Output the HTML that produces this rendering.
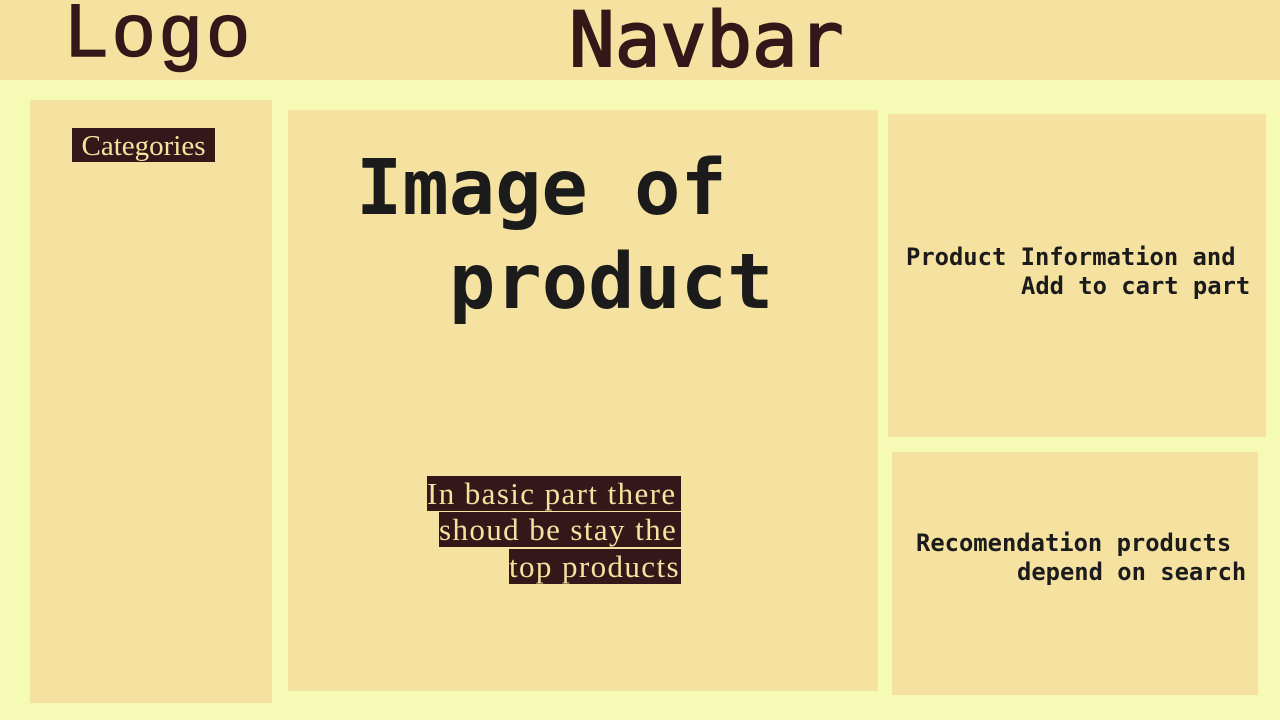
<!DOCTYPE html>
<html><head><style>
body{margin:0;width:1280px;height:720px;background:#f5fbb4;position:relative;overflow:hidden}
.b{position:absolute;background:#f5e1a0}
.t{position:absolute;white-space:pre;line-height:1}
.m{font-family:"DejaVu Sans Mono","Liberation Mono",monospace}
.s{font-family:"Liberation Sans",Arial,sans-serif}
.h{position:absolute;background:#341719;color:#f5e1a0;font-family:"Liberation Serif",serif;font-size:31px;line-height:35px;white-space:pre;overflow:hidden;letter-spacing:1.4px}
</style></head><body>
<div class="b" style="left:0;top:0;width:1280px;height:80px"></div>
<div class="b" style="left:30px;top:100px;width:242px;height:603px"></div>
<div class="b" style="left:288px;top:110px;width:590px;height:581px"></div>
<div class="b" style="left:888px;top:114px;width:378px;height:323px"></div>
<div class="b" style="left:892px;top:452px;width:366px;height:243px"></div>

<div class="t s" style="left:66px;top:-6px;font-size:74px;letter-spacing:6px;color:#341719;-webkit-text-stroke:1.5px #341719">Logo</div>
<div class="t m" style="left:569px;top:2px;font-size:76px;color:#341719;-webkit-text-stroke:2px #341719">Navbar</div>

<div class="h" style="left:72px;top:128px;width:143px;height:34px;line-height:36px;text-align:center;font-size:29px;letter-spacing:0">Categories</div>

<div class="t m" style="left:356px;top:150px;font-size:77px;font-weight:bold;color:#1b1b1b">Image of</div>
<div class="t m" style="left:449px;top:244px;font-size:77px;font-weight:bold;color:#1b1b1b">product</div>

<div class="t m" style="left:906px;top:246px;font-size:23.8px;font-weight:bold;color:#1b1b1b">Product Information and</div>
<div class="t m" style="left:1021px;top:275px;font-size:23.8px;font-weight:bold;color:#1b1b1b">Add to cart part</div>

<div class="t m" style="left:916px;top:532px;font-size:23.8px;font-weight:bold;color:#1b1b1b">Recomendation products</div>
<div class="t m" style="left:1017px;top:561px;font-size:23.8px;font-weight:bold;color:#1b1b1b">depend on search</div>

<div class="h" style="left:427px;top:476px;width:254px">In basic part there </div>
<div class="h" style="left:439px;top:512px;width:242px">shoud be stay the </div>
<div class="h" style="left:509px;top:549px;width:172px">top products</div>
</body></html>
